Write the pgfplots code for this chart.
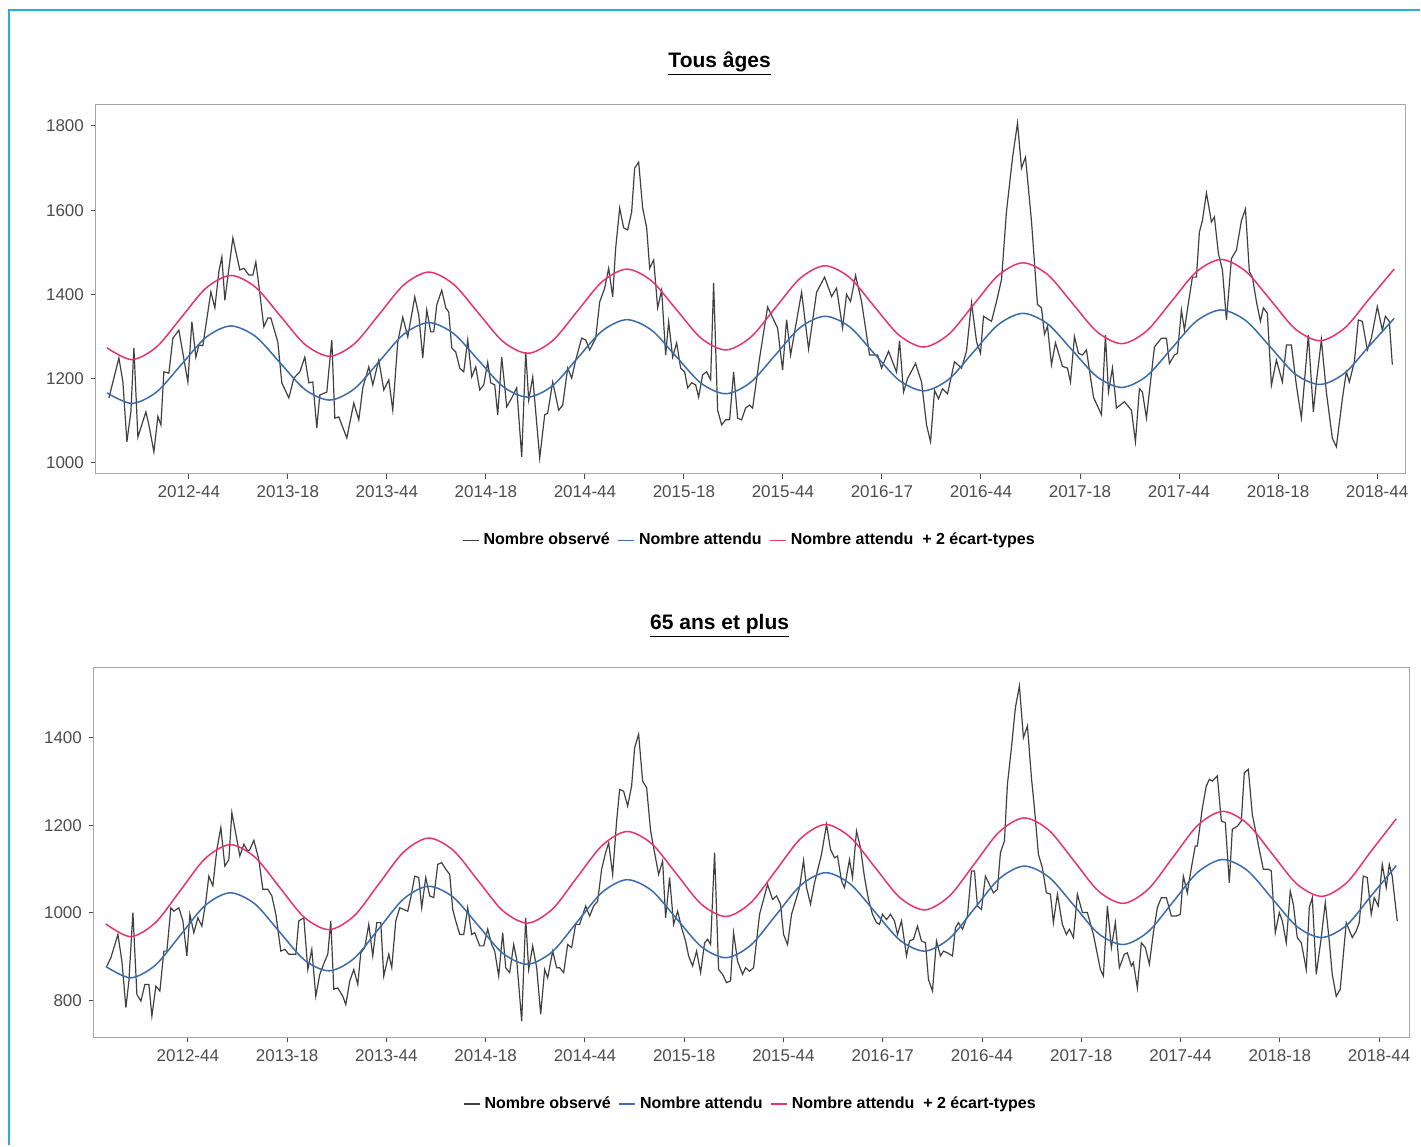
\documentclass[border=0pt]{standalone}
\usepackage{pgfplots}
\pgfplotsset{compat=1.18}
\usepackage{pgfplotstable}
\usepackage{fontspec}
\setmainfont{Liberation Sans}
\definecolor{obs}{HTML}{404040}
\definecolor{att}{HTML}{3A6BAD}
\definecolor{sup}{HTML}{E8336B}
\definecolor{frame}{HTML}{29ABE2}

% x in weeks from 2012-44 ; E = expected, U = expected + 2 sd
\pgfplotstableread{
x E U E2 U2
-21.5 1166 1273 878 975
-15 1141 1245 852 946
-8.5 1168 1275 881 978
-2 1233 1345 949 1051
4.5 1298 1415 1017 1124
11 1325 1445 1046 1156
17.5 1300 1417 1021 1128
24 1237 1349 957 1059
30.5 1174 1281 893 990
37 1149 1253 868 962
43.5 1176 1283 896 993
50 1241 1353 964 1066
56.5 1306 1423 1032 1139
63 1333 1453 1061 1171
69.5 1307 1424 1036 1143
76 1244 1356 972 1074
82.5 1181 1288 908 1005
89 1156 1260 883 977
95.5 1183 1290 912 1009
102 1248 1360 980 1082
108.5 1313 1430 1047 1154
115 1340 1460 1076 1186
121.5 1315 1432 1051 1158
128 1252 1364 987 1089
134.5 1189 1296 923 1020
141 1164 1268 898 992
147.5 1191 1298 927 1024
154 1256 1368 995 1097
160.5 1321 1438 1063 1170
167 1348 1468 1092 1202
173.5 1323 1440 1066 1173
180 1259 1371 1002 1104
186.5 1196 1303 938 1035
193 1171 1275 913 1007
199.5 1198 1305 942 1039
206 1263 1375 1010 1112
212.5 1328 1445 1078 1185
219 1355 1475 1107 1217
225.5 1330 1447 1082 1189
232 1267 1379 1018 1120
238.5 1204 1311 953 1050
245 1179 1283 928 1022
251.5 1206 1313 957 1054
258 1271 1383 1025 1127
264.5 1336 1453 1093 1200
271 1363 1483 1122 1232
277.5 1338 1455 1097 1204
284 1275 1387 1033 1135
290.5 1211 1318 969 1066
297 1186 1290 944 1038
303.5 1213 1320 972 1069
310 1278 1390 1040 1142
316.5 1343 1460 1108 1215
}\exptab

% observed, tous ages: p = horizontal position (reference pixel), v = value
\pgfplotstableread{
p v
109 1154
119 1249
123 1192
127 1050
131 1121
134 1273
138 1061
146 1121
149 1090
154 1026
158 1110
161 1090
164 1216
169 1213
173 1296
179 1315
188 1192
192 1335
196 1251
199 1280
203 1278
211 1406
215 1368
219 1454
222 1489
225 1386
233 1534
240 1458
244 1462
249 1446
253 1446
256 1477
259 1422
264 1323
268 1344
271 1344
278 1287
282 1190
289 1154
294 1201
300 1216
305 1251
309 1190
313 1192
317 1083
320 1161
327 1168
332 1292
335 1106
339 1109
347 1059
354 1142
359 1102
363 1178
369 1228
373 1185
379 1244
384 1173
389 1197
393 1125
398 1287
403 1346
408 1299
415 1394
419 1351
423 1249
427 1363
431 1311
434 1311
437 1375
442 1410
446 1368
449 1358
452 1273
456 1263
460 1225
464 1216
468 1292
472 1204
476 1228
480 1173
484 1185
488 1239
491 1190
495 1185
498 1114
502 1251
507 1133
512 1154
517 1178
522 1014
526 1263
529 1149
533 1204
540 1011
545 1114
548 1118
553 1192
559 1125
563 1137
568 1225
572 1201
576 1244
582 1296
586 1292
590 1268
596 1296
600 1382
605 1415
609 1462
613 1394
616 1510
620 1605
624 1558
628 1553
632 1596
635 1700
639 1714
643 1605
647 1558
650 1462
654 1482
658 1368
662 1410
666 1256
669 1335
673 1251
677 1285
681 1225
685 1216
688 1178
692 1190
696 1185
699 1156
703 1209
707 1216
711 1197
714 1427
718 1125
722 1090
726 1102
730 1102
734 1216
738 1106
742 1102
746 1130
750 1137
753 1130
760 1249
768 1370
778 1320
783 1220
787 1340
791 1256
802 1405
809 1270
817 1405
825 1441
832 1395
837 1415
843 1320
847 1400
851 1383
856 1445
862 1383
870 1256
878 1256
882 1225
889 1265
897 1215
900 1290
904 1168
908 1200
916 1236
922 1192
927 1090
931 1050
935 1172
939 1152
943 1176
948 1164
955 1240
962 1225
967 1265
972 1380
977 1288
981 1260
984 1348
992 1336
997 1383
1002 1435
1007 1597
1013 1724
1018 1807
1022 1700
1026 1726
1032 1574
1038 1376
1042 1368
1045 1305
1048 1324
1052 1233
1056 1285
1063 1229
1068 1225
1071 1192
1075 1300
1079 1260
1083 1256
1087 1268
1094 1156
1102 1114
1106 1303
1109 1168
1113 1225
1117 1130
1125 1145
1132 1125
1136 1050
1140 1176
1143 1168
1147 1106
1155 1275
1162 1296
1167 1296
1170 1236
1175 1256
1178 1260
1182 1363
1185 1315
1189 1380
1193 1441
1197 1441
1200 1548
1203 1575
1207 1641
1212 1572
1215 1584
1219 1497
1223 1458
1227 1339
1232 1485
1237 1505
1242 1575
1246 1603
1250 1454
1253 1441
1257 1383
1261 1336
1264 1368
1268 1355
1272 1184
1277 1244
1283 1192
1287 1280
1292 1280
1297 1184
1302 1106
1309 1303
1314 1121
1317 1192
1322 1292
1327 1168
1333 1058
1337 1038
1343 1152
1347 1216
1350 1192
1355 1240
1359 1339
1363 1336
1368 1268
1372 1296
1378 1371
1383 1315
1386 1348
1390 1336
1393 1233
}\obsA

\pgfplotstableread{
p v
107 879
111 898
118 951
122 890
126 784
129 845
133 1001
137 814
141 799
145 837
149 837
152 765
156 833
160 822
164 913
167 913
171 1012
174 1004
179 1012
183 982
187 902
190 997
194 955
198 989
202 970
206 1027
209 1084
213 1062
217 1145
221 1195
225 1107
229 1122
232 1229
236 1180
240 1130
244 1157
248 1141
250 1145
254 1166
259 1122
263 1054
268 1054
272 1039
276 997
281 913
285 917
289 906
296 906
299 982
304 989
308 871
312 917
316 810
320 860
325 890
328 906
331 982
334 826
338 829
343 810
346 791
350 845
354 871
358 837
361 909
365 921
369 974
373 902
377 978
381 978
384 856
389 906
392 875
396 982
400 1012
408 1004
411 1035
415 1084
419 1081
422 1012
426 1081
430 1039
434 1035
438 1111
442 1115
446 1100
450 1088
453 1008
456 982
460 951
464 951
468 1012
472 951
475 955
480 925
484 925
488 963
492 928
495 913
499 856
503 955
506 875
510 864
514 928
517 894
522 753
526 989
529 871
533 925
537 875
541 769
545 871
548 852
553 913
557 875
560 875
564 864
568 928
572 921
576 974
580 974
586 1016
590 993
594 1016
598 1027
602 1100
606 1138
609 1160
613 1088
617 1210
620 1282
624 1278
628 1244
632 1290
635 1377
639 1408
643 1301
647 1286
651 1187
654 1149
659 1088
663 1119
666 989
670 1081
674 974
678 1004
682 966
686 936
689 902
693 879
697 913
701 864
705 932
708 940
711 928
715 1138
719 871
723 860
727 841
731 845
734 955
738 890
743 860
746 875
750 867
754 875
760 997
768 1065
773 1031
777 1039
781 1020
784 951
788 928
792 997
800 1058
804 1120
807 1058
811 1020
815 1069
822 1134
827 1202
831 1145
835 1126
838 1130
842 1073
845 1058
850 1122
853 1081
857 1187
861 1149
865 1081
869 1031
873 997
877 978
880 974
883 997
887 985
891 997
895 982
898 951
902 982
907 902
910 936
914 940
918 970
922 936
926 932
929 848
933 822
937 936
941 902
944 913
948 909
953 902
956 966
959 978
963 963
968 993
972 1096
975 1096
978 1016
982 1008
986 1084
990 1065
994 1046
998 1054
1001 1138
1005 1164
1008 1294
1012 1377
1016 1469
1020 1518
1024 1400
1028 1427
1032 1309
1035 1240
1039 1134
1043 1103
1047 1046
1051 1043
1054 978
1058 1043
1063 974
1067 951
1070 963
1074 944
1078 1043
1083 1001
1088 1001
1094 951
1101 871
1104 856
1108 1016
1112 921
1116 978
1120 875
1125 906
1128 909
1132 879
1134 887
1138 829
1142 932
1146 921
1150 883
1154 955
1158 1012
1162 1035
1167 1035
1172 993
1177 993
1181 997
1184 1084
1188 1046
1192 1103
1196 1153
1198 1153
1203 1240
1207 1290
1210 1305
1213 1301
1218 1313
1222 1210
1226 1206
1230 1069
1233 1191
1238 1198
1242 1210
1245 1320
1249 1328
1253 1225
1257 1179
1261 1134
1264 1100
1269 1100
1272 1096
1276 955
1280 1001
1283 982
1287 932
1291 1050
1294 1020
1298 944
1302 932
1307 871
1310 1012
1313 1035
1317 860
1322 944
1326 1024
1330 936
1333 860
1337 810
1341 826
1347 978
1353 944
1357 959
1360 978
1364 1084
1368 1081
1372 997
1375 1035
1379 1016
1383 1111
1387 1058
1390 1111
1393 1084
1398 982
}\obsB

\pgfplotsset{
  chartstyle/.style={
    scale only axis,
    anchor=south west,
    xtick={0,26,52,78,104,130,156,182,208,234,260,286,312},
    xticklabels={2012-44,2013-18,2013-44,2014-18,2014-44,2015-18,2015-44,2016-17,2016-44,2017-18,2017-44,2018-18,2018-44},
    tick align=outside,
    tickwidth=2.5pt,
    xtick pos=bottom, ytick pos=left,
    axis line style={gray!70, line width=0.5pt},
    major tick style={black!70, line width=0.5pt},
    ticklabel style={font=\fontsize{8.5}{10}\selectfont, text=black!70},
    /pgf/number format/assume math mode=true,
    /pgf/number format/1000 sep={},
    legend columns=3,
    legend style={draw=none, fill=none, font=\bfseries\fontsize{8}{10}\selectfont, text=black,
      /tikz/every even column/.append style={column sep=2pt}, at={(0.5,-0.18)}, anchor=center},
  },
}

\begin{document}
\begin{tikzpicture}
\path (0pt,0pt) rectangle (710.5pt,573pt);
\draw[frame, line width=0.8pt] (4.5pt,0pt) -- (4.5pt,568pt) -- (710.5pt,568pt);
\node[font=\bfseries\fontsize{10.5}{12}\selectfont] at (360pt,541pt) {\underline{Tous âges}};
\node[font=\bfseries\fontsize{10.5}{12}\selectfont] at (360pt,260pt) {\underline{65 ans et plus}};

\begin{axis}[chartstyle, at={(48pt,336pt)}, width=655pt, height=184.5pt,
  xmin=-24.4, xmax=319.4,
  ymin=974, ymax=1850, ytick={1000,1200,1400,1600,1800},
  legend image code/.code={\draw[#1, line width=0.6pt] (0pt,0pt) -- (8pt,0pt);}]
\addplot[color=obs, line width=0.6pt] table[x expr={(\thisrow{p}-189)/3.81}, y=v] {\obsA};
\addlegendentry{Nombre observé}
\addplot[color=att, line width=0.75pt, smooth] table[x=x, y=E] {\exptab};
\addlegendentry{Nombre attendu}
\addplot[color=sup, line width=0.75pt, smooth] table[x=x, y=U] {\exptab};
\addlegendentry{Nombre attendu \ + 2 écart-types}
\end{axis}

\begin{axis}[chartstyle, at={(47pt,54pt)}, width=658pt, height=185pt,
  xmin=-24.6, xmax=319.9,
  ymin=716, ymax=1560, ytick={800,1000,1200,1400},
  legend image code/.code={\draw[#1, line width=0.6pt] (0pt,0pt) -- (8pt,0pt);}]
\addplot[color=obs, line width=0.6pt] table[x expr={(\thisrow{p}-188)/3.82}, y=v] {\obsB};
\addlegendentry{Nombre observé}
\addplot[color=att, line width=0.75pt, smooth] table[x=x, y=E2] {\exptab};
\addlegendentry{Nombre attendu}
\addplot[color=sup, line width=0.75pt, smooth] table[x=x, y=U2] {\exptab};
\addlegendentry{Nombre attendu \ + 2 écart-types}
\end{axis}
\end{tikzpicture}
\end{document}
